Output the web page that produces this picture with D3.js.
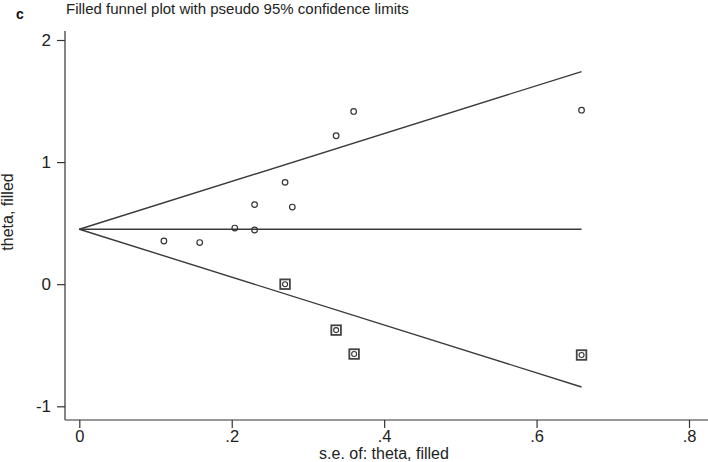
<!DOCTYPE html>
<html><head><meta charset="utf-8">
<script src="https://cdn.jsdelivr.net/npm/d3@7"></script>
<style>body{margin:0;background:#fff}svg{display:block;font-family:"Liberation Sans",Arial,sans-serif}</style>
</head><body><div id="chart"></div>
<script>
// Observed studies (s.e., theta)
const seObserved = [0.111, 0.158, 0.204, 0.230, 0.230, 0.270, 0.2795, 0.337, 0.360, 0.659];
const thetaObserved = [0.354, 0.341, 0.460, 0.652, 0.444, 0.834, 0.632, 1.216, 1.415, 1.425];
// Filled (imputed) studies
const seFilled = [0.270, 0.337, 0.3606, 0.659];
const thetaFilled = [0.0, -0.376, -0.572, -0.580];
// Pooled estimate and funnel extent
const thetaPooled = [0.45];
const seMax = [0.659];
const xTicks = [0, 0.2, 0.4, 0.6, 0.8];
const xTickLabels = ["0", ".2", ".4", ".6", ".8"];
const yTicks = [-1, 0, 1, 2];
const yTickLabels = ["-1", "0", "1", "2"];

const W = 708, H = 462;
const svg = d3.select("#chart").append("svg").attr("width", W).attr("height", H);
const x = d3.scaleLinear().domain([0, 0.8]).range([79.3, 689]);
const y = d3.scaleLinear().domain([-1, 2]).range([406.3, 40]);
const col = "#333";
const ff = "Liberation Sans, Arial, sans-serif";

// axes
const xAxisY = 420, yAxisX = 65;
svg.append("line").attr("x1", yAxisX).attr("x2", W).attr("y1", xAxisY).attr("y2", xAxisY).attr("stroke", col).attr("stroke-width", 1.2);
svg.append("line").attr("x1", yAxisX).attr("x2", yAxisX).attr("y1", 31).attr("y2", xAxisY).attr("stroke", col).attr("stroke-width", 1.2);

const xg = svg.append("g").attr("transform", `translate(0,${xAxisY})`)
  .call(d3.axisBottom(x).tickValues(xTicks).tickFormat((d,i)=>xTickLabels[i]).tickSize(8).tickSizeOuter(0).tickPadding(2));
xg.select(".domain").remove();
xg.selectAll("line").attr("stroke", col).attr("stroke-width", 1.2);
xg.selectAll("text").attr("font-size", 16.5).attr("fill", "#222").attr("font-family", ff);

const yg = svg.append("g").attr("transform", `translate(${yAxisX},0)`)
  .call(d3.axisLeft(y).tickValues(yTicks).tickFormat((d,i)=>yTickLabels[i]).tickSize(8).tickSizeOuter(0).tickPadding(6));
yg.select(".domain").remove();
yg.selectAll("line").attr("stroke", col).attr("stroke-width", 1.2);
yg.selectAll("text").attr("font-size", 17).attr("fill", "#222").attr("font-family", ff);

// funnel lines
const t0 = thetaPooled[0], sm = seMax[0];
const lineG = svg.append("g").attr("stroke", "#3a3a3a").attr("stroke-width", 1.4).attr("fill", "none");
lineG.append("line").attr("x1", x(0)).attr("y1", y(t0)).attr("x2", x(sm)).attr("y2", y(t0));
lineG.append("line").attr("x1", x(0)).attr("y1", y(t0)).attr("x2", x(sm)).attr("y2", y(t0 + 1.96 * sm));
lineG.append("line").attr("x1", x(0)).attr("y1", y(t0)).attr("x2", x(sm)).attr("y2", y(t0 - 1.96 * sm));

// observed points
svg.append("g").selectAll("circle").data(seObserved.map((s,i)=>[s, thetaObserved[i]])).join("circle")
  .attr("cx", d=>x(d[0])).attr("cy", d=>y(d[1])).attr("r", 2.8)
  .attr("fill", "none").attr("stroke", col).attr("stroke-width", 1.2);

// filled points
const fg = svg.append("g").selectAll("g").data(seFilled.map((s,i)=>[s, thetaFilled[i]])).join("g")
  .attr("transform", d=>`translate(${x(d[0])},${y(d[1])})`);
fg.append("rect").attr("x", -4.8).attr("y", -4.8).attr("width", 9.6).attr("height", 9.6)
  .attr("fill", "none").attr("stroke", "#444").attr("stroke-width", 1.8);
fg.append("circle").attr("r", 2.5).attr("fill", "none").attr("stroke", col).attr("stroke-width", 1.1);

// titles
svg.append("text").attr("x", 66).attr("y", 14).attr("font-size", 15).attr("fill", "#222")
  .text("Filled funnel plot with pseudo 95% confidence limits");
svg.append("text").attr("x", 16).attr("y", 19).attr("font-size", 14).attr("font-weight", "bold").attr("fill", "#111").text("c");
svg.append("text").attr("transform", "translate(13,212) rotate(-90)").attr("text-anchor", "middle")
  .attr("font-size", 16).attr("fill", "#222").text("theta, filled");
svg.append("text").attr("x", 384).attr("y", 459).attr("text-anchor", "middle")
  .attr("font-size", 16).attr("fill", "#222").text("s.e. of: theta, filled");
</script></body></html>
